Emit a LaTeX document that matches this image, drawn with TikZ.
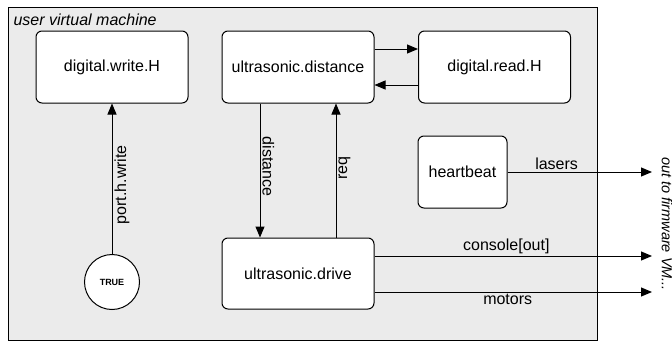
\documentclass[tikz,border=0pt]{standalone}
\usepackage{fontspec}
\setmainfont{Liberation Sans}
\usetikzlibrary{arrows.meta}
\begin{document}
\begin{tikzpicture}[x=1pt, y=-1pt, line width=1pt,
            >={Triangle[length=11pt,width=9pt]},
            every node/.style={font=\fontsize{16}{19}\selectfont},
            block/.style = {draw, fill=white, rounded corners=6pt, minimum width=152pt, minimum height=72pt, inner sep=0pt},
            port/.style = {draw, circle, fill=white, minimum size=55pt, inner sep=0pt, font=\fontsize{9}{11}\selectfont\bfseries},
            lbl/.style = {inner sep=2pt}]
                \useasboundingbox (0,0) rectangle (672,343);
                \node[draw, fill=black!8, minimum width=589pt, minimum height=333pt, inner sep=0pt, anchor=north west] (vm) at (8,7) {};
                \node[anchor=base west, inner sep=0pt, font=\fontsize{16}{19}\selectfont\itshape] (vmname) at (13,25) {user virtual machine};

                \node[block] (write) at (112,67) {digital.write.H};
                \node[block] (dist) at (298,67) {ultrasonic.distance};
                \node[block] (read) at (494.5,67) {digital.read.H};
                \node[block, minimum width=89pt] (beat) at (462.5,172) {heartbeat};
                \node[block, minimum height=71pt] (drive) at (298,273.5) {ultrasonic.drive};
                \node[port] (true) at (112,282) {TRUE};

                \node[rotate=-90, inner sep=0pt, font=\fontsize{14.5}{17}\selectfont\itshape] (fw) at (667,224) {out to firmware VM...};
                \coordinate (fwlasers) at (652,172);
                \coordinate (fwconsole) at (652,256);
                \coordinate (fwmotors) at (652,292);

                \draw[->] ([yshift=18pt]dist.east) -- ([yshift=18pt]read.west);
                \draw[->] ([yshift=-18pt]read.west) -- ([yshift=-18pt]dist.east);
                \draw[->] (true) -- node[lbl, sloped, below, pos=0.46] {port.h.write} (write);
                \draw[->] ([xshift=-38pt]dist.south) -- node[lbl, sloped, above, pos=0.47] {distance} ([xshift=-38pt]drive.north);
                \draw[->] ([xshift=38pt]drive.north) -- node[lbl, sloped, below, pos=0.52] {req} ([xshift=38pt]dist.south);
                \draw[->] (beat.east) -- node[lbl, above, pos=0.34] {lasers} (fwlasers);
                \draw[->] ([yshift=17.5pt]drive.east) -- node[lbl, above, pos=0.475] {console[out]} (fwconsole);
                \draw[->] ([yshift=-18.5pt]drive.east) -- node[lbl, below, pos=0.48] {motors} (fwmotors);
        \end{tikzpicture}
\end{document}
